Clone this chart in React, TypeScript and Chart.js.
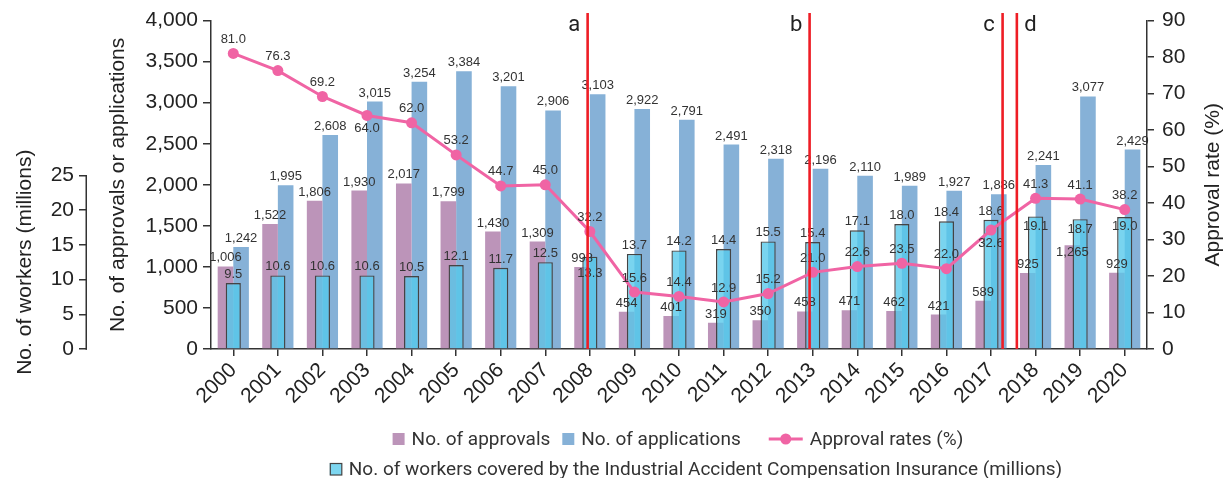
import React, { useEffect, useRef } from "react";
import { Chart, registerables } from "chart.js";

Chart.register(...registerables);

// ---------- data ----------
const years = [
  "2000", "2001", "2002", "2003", "2004", "2005", "2006", "2007", "2008", "2009", "2010",
  "2011", "2012", "2013", "2014", "2015", "2016", "2017", "2018", "2019", "2020",
];
const approvals = [
  1006, 1522, 1806, 1930, 2017, 1799, 1430, 1309, 998, 454, 401,
  319, 350, 458, 471, 462, 421, 589, 925, 1265, 929,
];
const applications = [
  1242, 1995, 2608, 3015, 3254, 3384, 3201, 2906, 3103, 2922, 2791,
  2491, 2318, 2196, 2110, 1989, 1927, 1886, 2241, 3077, 2429,
];
const workers = [
  9.5, 10.6, 10.6, 10.6, 10.5, 12.1, 11.7, 12.5, 13.3, 13.7, 14.2,
  14.4, 15.5, 15.4, 17.1, 18.0, 18.4, 18.6, 19.1, 18.7, 19.0,
];
const approvalRates = [
  81.0, 76.3, 69.2, 64.0, 62.0, 53.2, 44.7, 45.0, 32.2, 15.6, 14.4,
  12.9, 15.2, 21.0, 22.6, 23.5, 22.0, 32.6, 41.3, 41.1, 38.2,
];

// axis ranges / ticks
const countMax = 4000;
const countStep = 500;
const workerTickMax = 25;
const workerStep = 5;
const workerAxisMax = 47.3; // worker axis only spans the lower part of the plot
const rateMax = 90;
const rateStep = 10;

// event markers (position in category units)
const markers = [
  { label: "a", at: 7.95, side: -1 },
  { label: "b", at: 12.93, side: -1 },
  { label: "c", at: 17.26, side: -1 },
  { label: "d", at: 17.58, side: 1 },
];

// label placement exceptions
const approvalLabelInside = ["2019"];
const workerLabelInside: Record<string, number> = { "2008": 17, "2018": 10, "2019": 10, "2020": 9 };
const rateLabelBelow = ["2003", "2017"];

// ---------- styles ----------
const PURPLE = "#bc94b9";
const BLUE = "#86b1d7";
const CYAN = "rgba(85,200,235,0.79)";
const PINK = "#f064a4";
const RED = "#ee1d25";
const AXIS = "#333333";
const TEXT = "#222222";
const AXIS_FONT = '"Liberation Sans", Arial, sans-serif';
const LEGEND_FONT = 'Roboto, "Liberation Sans", sans-serif';
const LABEL_FONT = '"Liberation Sans", Arial, sans-serif';

const legendLabels = [
  "No. of approvals",
  "No. of applications",
  "Approval rates (%)",
  "No. of workers covered by the Industrial Accident Compensation Insurance (millions)",
];

const fmtInt = (v: number) => v.toLocaleString("en-US");

const valueLabelPlugin = {
  id: "valueLabels",
  afterDatasetsDraw(chart: any) {
    const ctx = chart.ctx;
    ctx.save();
    ctx.font = `13px ${LABEL_FONT}`;
    ctx.fillStyle = "#333";
    ctx.textAlign = "center";
    ctx.textBaseline = "middle";
    chart.getDatasetMeta(0).data.forEach((el: any, i: number) => {
      const inside = approvalLabelInside.includes(years[i]);
      ctx.fillText(fmtInt(approvals[i]), el.x, inside ? el.y + 7 : el.y - 8.5);
    });
    chart.getDatasetMeta(1).data.forEach((el: any, i: number) => {
      ctx.fillText(fmtInt(applications[i]), el.x, el.y - 8.5);
    });
    chart.getDatasetMeta(3).data.forEach((el: any, i: number) => {
      const off = workerLabelInside[years[i]];
      ctx.fillText(workers[i].toFixed(1), el.x, off !== undefined ? el.y + off : el.y - 8.5);
    });
    chart.getDatasetMeta(2).data.forEach((el: any, i: number) => {
      const below = rateLabelBelow.includes(years[i]);
      ctx.fillText(approvalRates[i].toFixed(1), el.x, below ? el.y + 13 : el.y - 14);
    });
    ctx.restore();
  },
};

const decorPlugin = {
  id: "decor",
  afterDraw(chart: any) {
    const ctx = chart.ctx;
    const { x, y, yWorkers, yRate } = chart.scales;
    const area = chart.chartArea;
    ctx.save();

    // worker axis line (only 0..25)
    ctx.strokeStyle = AXIS;
    ctx.lineWidth = 1.5;
    ctx.beginPath();
    ctx.moveTo(yWorkers.right - 0.75, yWorkers.getPixelForValue(0) + 0.75);
    ctx.lineTo(yWorkers.right - 0.75, yWorkers.getPixelForValue(workerTickMax));
    ctx.stroke();

    // axis titles (rotated, reading bottom to top)
    ctx.fillStyle = TEXT;
    ctx.font = `21px ${AXIS_FONT}`;
    ctx.textAlign = "center";
    ctx.textBaseline = "middle";
    const vtext = (t: string, cx: number, cy: number) => {
      ctx.save();
      ctx.translate(cx, cy);
      ctx.rotate(-Math.PI / 2);
      ctx.fillText(t, 0, 0);
      ctx.restore();
    };
    vtext(
      "No. of workers (millions)",
      yWorkers.left + 25,
      (yWorkers.getPixelForValue(0) + yWorkers.getPixelForValue(workerTickMax)) / 2
    );
    vtext("No. of approvals or applications", y.left + 31, (area.top + area.bottom) / 2);
    vtext("Approval rate (%)", yRate.right - 16, (area.top + area.bottom) / 2);

    // event marker lines
    markers.forEach((m) => {
      const px = x.getPixelForValue(m.at);
      ctx.strokeStyle = RED;
      ctx.lineWidth = 2.6;
      ctx.beginPath();
      ctx.moveTo(px, 13);
      ctx.lineTo(px, area.bottom);
      ctx.stroke();
      ctx.fillStyle = TEXT;
      ctx.font = `22px ${LEGEND_FONT}`;
      ctx.textAlign = "center";
      ctx.textBaseline = "middle";
      ctx.fillText(m.label, px + m.side * 13.5, 25);
    });

    // legend
    ctx.font = `19px ${LEGEND_FONT}`;
    ctx.textBaseline = "middle";
    ctx.textAlign = "left";
    const gapSym = 7;
    const gapBefore = [0, 12, 28, 0];
    const symW = [12, 12, 34, 12];
    const rows = [
      { items: [0, 1, 2], cx: 678, cy: 439 },
      { items: [3], cx: 696, cy: 469 },
    ];
    rows.forEach((row) => {
      const widths = row.items.map((i) => symW[i] + gapSym + ctx.measureText(legendLabels[i]).width);
      const total =
        widths.reduce((a, b) => a + b, 0) + row.items.slice(1).reduce((a, i) => a + gapBefore[i], 0);
      let cur = row.cx - total / 2;
      row.items.forEach((i, k) => {
        if (k > 0) cur += gapBefore[i];
        const cy = row.cy;
        if (i === 0 || i === 1) {
          ctx.fillStyle = i === 0 ? PURPLE : BLUE;
          ctx.fillRect(cur, cy - 6, 12, 12);
        } else if (i === 2) {
          ctx.strokeStyle = PINK;
          ctx.lineWidth = 3;
          ctx.beginPath();
          ctx.moveTo(cur, cy);
          ctx.lineTo(cur + 34, cy);
          ctx.stroke();
          ctx.fillStyle = PINK;
          ctx.beginPath();
          ctx.arc(cur + 17, cy, 5.5, 0, Math.PI * 2);
          ctx.fill();
        } else {
          ctx.fillStyle = "#7dd6f0";
          ctx.fillRect(cur, cy - 6, 12, 12);
          ctx.strokeStyle = "#444";
          ctx.lineWidth = 1.2;
          ctx.strokeRect(cur + 0.5, cy - 5.5, 11.5, 11.5);
        }
        ctx.fillStyle = "#333";
        ctx.fillText(legendLabels[i], cur + symW[i] + gapSym, cy + 1);
        cur += widths[k];
      });
    });

    ctx.restore();
  },
};

export default function App() {
  const ref = useRef<HTMLCanvasElement>(null);

  useEffect(() => {
    const tickFont = { family: AXIS_FONT, size: 21 };
    const chart = new Chart(ref.current as HTMLCanvasElement, {
      data: {
        labels: years,
        datasets: [
          {
            type: "bar",
            label: legendLabels[0],
            data: approvals,
            backgroundColor: PURPLE,
            yAxisID: "y",
            order: 3,
            categoryPercentage: 0.7,
            barPercentage: 1,
          },
          {
            type: "bar",
            label: legendLabels[1],
            data: applications,
            backgroundColor: BLUE,
            yAxisID: "y",
            order: 4,
            categoryPercentage: 0.7,
            barPercentage: 1,
          },
          {
            type: "line",
            label: legendLabels[2],
            data: approvalRates,
            borderColor: PINK,
            backgroundColor: PINK,
            borderWidth: 3,
            pointRadius: 5.5,
            pointBorderWidth: 0,
            pointBackgroundColor: PINK,
            yAxisID: "yRate",
            order: 0,
          },
          {
            type: "bar",
            label: legendLabels[3],
            data: workers,
            backgroundColor: CYAN,
            borderColor: "#444",
            borderWidth: 1.4,
            yAxisID: "yWorkers",
            order: 1,
            grouped: false,
            categoryPercentage: 0.34,
            barPercentage: 1,
          },
        ] as any,
      },
      options: {
        responsive: true,
        maintainAspectRatio: false,
        animation: false,
        layout: { padding: { top: 20, bottom: 69, left: 0, right: 0 } },
        plugins: {
          legend: { display: false },
          tooltip: { enabled: false },
        },
        scales: {
          x: {
            offset: true,
            grid: {
              display: true,
              drawOnChartArea: false,
              drawTicks: true,
              tickLength: 7,
              offset: false,
              color: AXIS,
              lineWidth: 1.5,
            },
            border: { display: true, color: AXIS, width: 1.5 },
            ticks: { font: tickFont, color: TEXT, minRotation: 45, maxRotation: 45, padding: 2, autoSkip: false },
            afterFit: (s: any) => {
              s.height = 60;
            },
          },
          yWorkers: {
            type: "linear",
            position: "left",
            weight: 2,
            min: 0,
            max: workerAxisMax,
            grid: { drawOnChartArea: false, tickLength: 8, color: AXIS, lineWidth: 1.5 },
            border: { display: false },
            ticks: { stepSize: workerStep, font: tickFont, color: TEXT, padding: 5 },
            afterBuildTicks: (s: any) => {
              s.ticks = s.ticks.filter((t: any) => t.value <= workerTickMax);
            },
            afterFit: (s: any) => {
              s.width = 87;
            },
          },
          y: {
            type: "linear",
            position: "left",
            weight: 1,
            min: 0,
            max: countMax,
            grid: { drawOnChartArea: false, tickLength: 8, color: AXIS, lineWidth: 1.5 },
            border: { display: true, color: AXIS, width: 1.5 },
            ticks: {
              stepSize: countStep,
              font: tickFont,
              color: TEXT,
              padding: 5,
              callback: (v: any) => fmtInt(Number(v)),
            },
            afterFit: (s: any) => {
              s.width = 124;
            },
          },
          yRate: {
            type: "linear",
            position: "right",
            min: 0,
            max: rateMax,
            grid: { drawOnChartArea: false, tickLength: 7, color: AXIS, lineWidth: 1.5 },
            border: { display: true, color: AXIS, width: 1.5 },
            ticks: { stepSize: rateStep, font: tickFont, color: TEXT, padding: 8 },
            afterFit: (s: any) => {
              s.width = 82;
            },
          },
        } as any,
      },
      plugins: [valueLabelPlugin, decorPlugin],
    });
    return () => chart.destroy();
  }, []);

  return (
    <div style={{ position: "fixed", left: 0, top: 0, width: 1229, height: 478, background: "#fff" }}>
      <canvas ref={ref} />
    </div>
  );
}
